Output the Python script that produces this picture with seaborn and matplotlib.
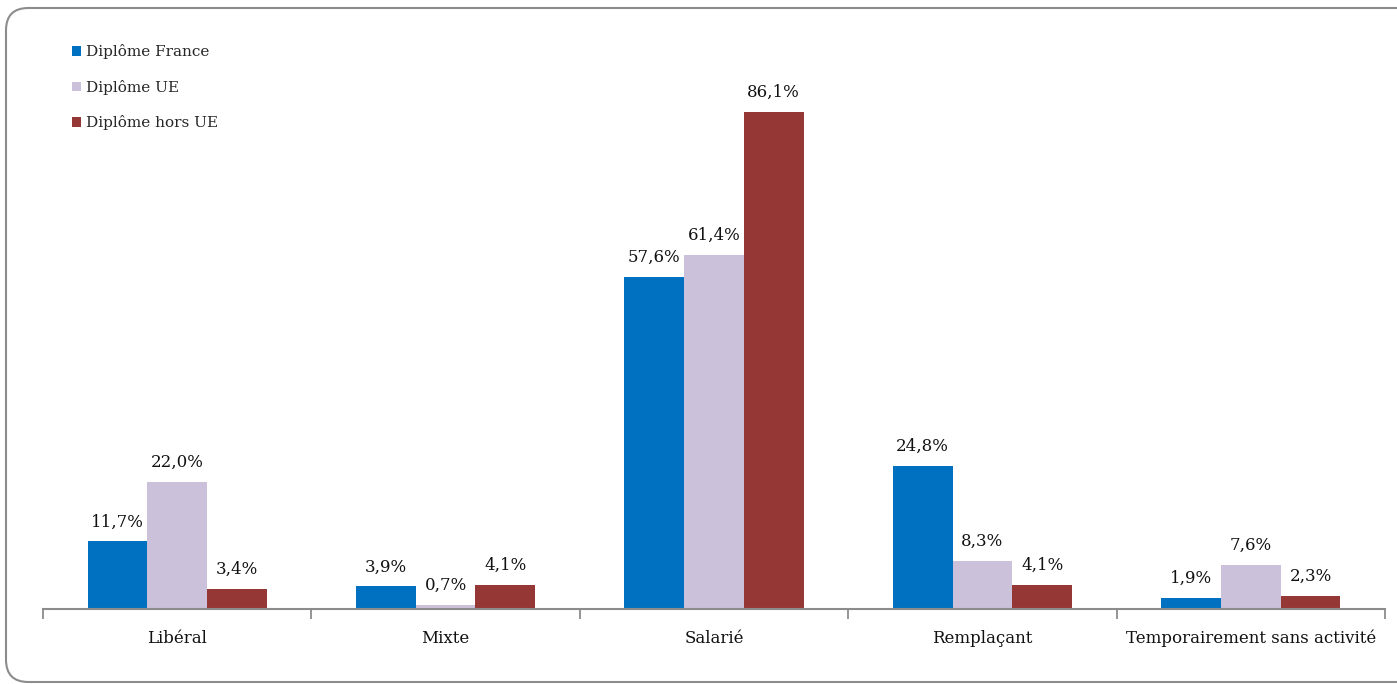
import matplotlib
matplotlib.use("Agg")
import matplotlib.pyplot as plt
import seaborn as sns
import pandas as pd
import numpy as np
from matplotlib.patches import FancyBboxPatch, Patch

categories = ["Libéral", "Mixte", "Salarié", "Remplaçant", "Temporairement sans activité"]
series = ["Diplôme France", "Diplôme UE", "Diplôme hors UE"]
france = [11.7, 3.9, 57.6, 24.8, 1.9]
ue = [22.0, 0.7, 61.4, 8.3, 7.6]
hors_ue = [3.4, 4.1, 86.1, 4.1, 2.3]
colors = ["#0070C0", "#CCC1DA", "#953735"]

rows = []
for s, vals in zip(series, [france, ue, hors_ue]):
    for c, v in zip(categories, vals):
        rows.append({"cat": c, "serie": s, "val": v})
df = pd.DataFrame(rows)

sns.set_theme(style="white")
plt.rcParams["font.family"] = ["DejaVu Serif"]

fig = plt.figure(figsize=(13.97, 6.84), dpi=100)
W, H = 1397, 684
ax = fig.add_axes([43 / W, 1 - 609 / H, (1385 - 43) / W, (609 - 32) / H])

sns.barplot(data=df, x="cat", y="val", hue="serie", palette=colors,
            width=0.667, saturation=1, ax=ax, legend=False, errorbar=None,
            linewidth=0)

for cont in ax.containers:
    labels = [f"{v:.1f}%".replace(".", ",") for v in cont.datavalues]
    ax.bar_label(cont, labels=labels, padding=8, fontsize=12, color="#111111")

ax.set_ylim(0, 100)
ax.set_xlim(-0.5, len(categories) - 0.5)
ax.set_xlabel("")
ax.set_ylabel("")
ax.set_yticks([])
for sp in ["top", "right", "left"]:
    ax.spines[sp].set_visible(False)
ax.spines["bottom"].set_color("#8c8c8c")
ax.spines["bottom"].set_linewidth(1.5)
ax.tick_params(axis="x", which="major", bottom=True, length=0, pad=15, labelsize=12, labelcolor="#111111")
ax.set_xticks(np.arange(-0.5, len(categories)), minor=True)
ax.tick_params(axis="x", which="minor", bottom=True, length=7, width=1.3, color="#8c8c8c", direction="out")

handles = [Patch(facecolor=c, edgecolor="none", label=s) for s, c in zip(series, colors)]
leg = fig.legend(handles=handles, loc="upper left", bbox_to_anchor=(66 / W, 1 - 38 / H),
                 frameon=False, fontsize=11, handlelength=0.6, handleheight=0.6,
                 handletextpad=0.3, labelspacing=1.35, borderaxespad=0)

box = FancyBboxPatch((6 / W, 2 / H), (W + 20) / W, (674 - 0) / H,
                     boxstyle="round,pad=0,rounding_size=0.016",
                     transform=fig.transFigure, facecolor="none",
                     edgecolor="#8c8c8c", linewidth=1.5, mutation_aspect=W / H)
fig.patches.append(box)

fig.savefig("out.png", dpi=100)
